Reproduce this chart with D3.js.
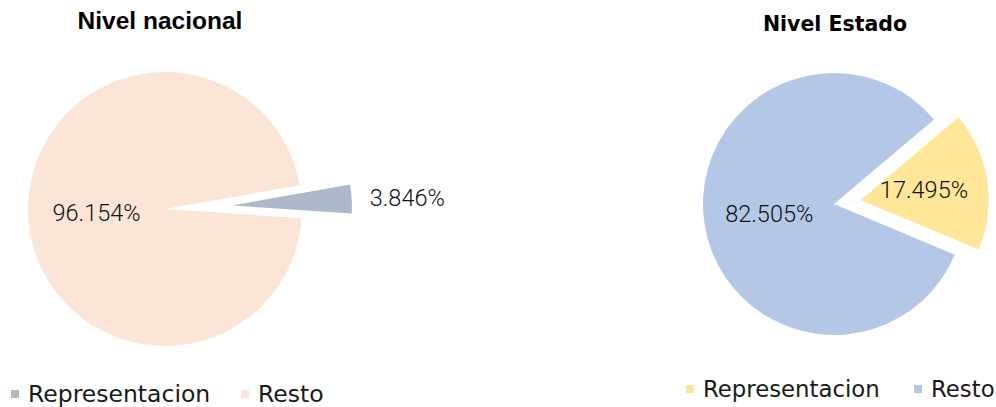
<!DOCTYPE html>
<style>
  body { margin: 0; background: #fff; }
  .title { font-weight: bold; fill: #000; text-anchor: middle; }
  .lbl { font: 300 23.5px Roboto, sans-serif; fill: #111; }
  .legend text { font-family: "DejaVu Sans", sans-serif; fill: #1a1a1a; }
</style>
<body>
<svg id="chart" width="996" height="407"></svg>
</body>
<script src="https://cdnjs.cloudflare.com/ajax/libs/d3/7.8.5/d3.min.js"></script>
<script>
  const categories = ['Representacion', 'Resto']
  const nacional = [3.846, 96.154]
  const estado = [17.495, 82.505]
  const titles = ['Nivel nacional', 'Nivel Estado']

  const svg = d3.select('#chart')
  const rad = deg => deg * Math.PI / 180

  // one config per pie
  const pies = [
    { values: nacional, title: titles[0], colors: ['#ADB9CA', '#FBE5D6'],
      cx: 165, cy: 209, r: 137, rExpl: 120, offset: 67, start: 80,
      titleX: 160, titleY: 29, titleFont: '24.5px "Liberation Sans", Arial, sans-serif',
      outsideLabel: true, legendX: 11, legendY: 402, legendGap: 230, legendSize: 23.5 },
    { values: estado, title: titles[1], colors: ['#FFE699', '#B4C7E7'],
      cx: 834, cy: 204, r: 131, rExpl: 128, offset: 27, start: 49.8,
      titleX: 835, titleY: 31, titleFont: '20.5px "DejaVu Sans", sans-serif',
      outsideLabel: false, legendX: 686, legendY: 397, legendGap: 228, legendSize: 22.8 }
  ]

  const fmt = v => d3.format('.3f')(v) + '%'

  pies.forEach(p => {
    const g = svg.append('g')

    g.append('text')
        .attr('class', 'title')
        .attr('x', p.titleX)
        .attr('y', p.titleY)
        .style('font', 'bold ' + p.titleFont)
        .text(p.title)

    const arcs = d3.pie()
        .sort(null)
        .startAngle(rad(p.start))
        .endAngle(rad(p.start) + 2 * Math.PI)(p.values)

    const color = d3.scaleOrdinal().domain(categories).range(p.colors)

    const slice = g.selectAll('g.slice')
        .data(arcs)
      .enter().append('g')
        .attr('class', 'slice')
        .attr('transform', (d, i) => {
          const mid = (d.startAngle + d.endAngle) / 2
          const off = i === 0 ? p.offset : 0
          return `translate(${p.cx + off * Math.sin(mid)},${p.cy - off * Math.cos(mid)})`
        })

    slice.append('path')
        .attr('d', (d, i) => d3.arc().innerRadius(0).outerRadius(i === 0 ? p.rExpl : p.r)(d))
        .attr('fill', (d, i) => color(categories[i]))

    slice.append('text')
        .attr('class', 'lbl')
        .attr('dy', '.35em')
        .attr('text-anchor', (d, i) => i === 0 && p.outsideLabel ? 'start' : 'middle')
        .attr('transform', (d, i) => {
          const mid = (d.startAngle + d.endAngle) / 2
          const rr = i === 0 ? p.rExpl : p.r
          const dist = (i === 0 && p.outsideLabel) ? rr + 18 : rr * 0.5
          return `translate(${dist * Math.sin(mid)},${-dist * Math.cos(mid)})`
        })
        .text(d => fmt(d.data))

    // legend
    const leg = g.append('g').attr('class', 'legend')
        .attr('transform', `translate(${p.legendX},${p.legendY})`)
    const item = leg.selectAll('g')
        .data(categories)
      .enter().append('g')
        .attr('transform', (d, i) => `translate(${i * p.legendGap},0)`)
    item.append('rect')
        .attr('x', 0).attr('y', -12)
        .attr('width', 8).attr('height', 8)
        .attr('fill', d => color(d))
    item.append('text')
        .attr('x', 17)
        .style('font-size', p.legendSize + 'px')
        .text(d => d)
  })
</script>
